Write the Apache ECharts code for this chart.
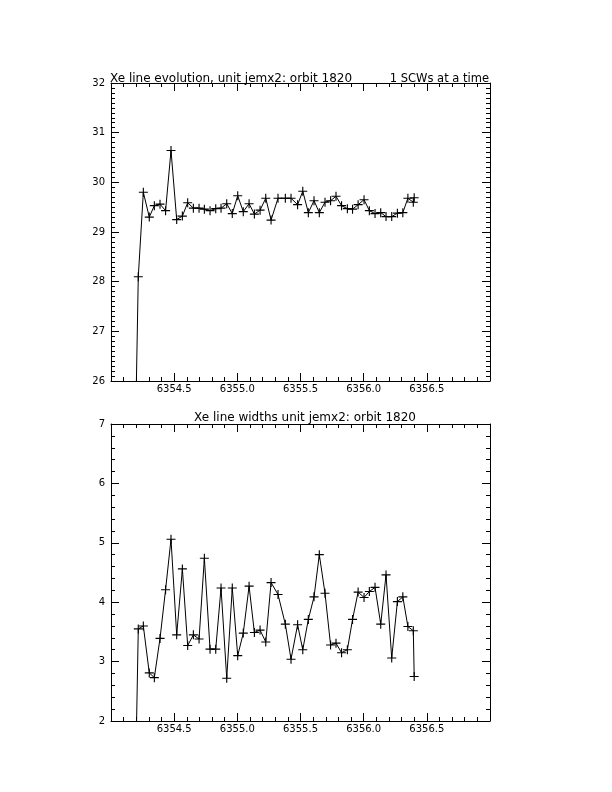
<!DOCTYPE html>
<html>
<head>
<meta charset="utf-8">
<script src="https://cdn.jsdelivr.net/npm/echarts@6/dist/echarts.min.js"></script>
<style>
html,body{margin:0;padding:0;background:#fff;}
#chart{width:612px;height:792px;}
</style>
</head>
<body>
<div id="chart"></div>
<script>
// Time (x) values shared by both panels
var times = [6354.194, 6354.216, 6354.256, 6354.303, 6354.343, 6354.388, 6354.432, 6354.475, 6354.520, 6354.565,
  6354.607, 6354.652, 6354.697, 6354.739, 6354.784, 6354.829, 6354.871, 6354.916, 6354.960, 6355.003,
  6355.047, 6355.093, 6355.135, 6355.180, 6355.225, 6355.267, 6355.322, 6355.380, 6355.425, 6355.477,
  6355.518, 6355.562, 6355.607, 6355.649, 6355.694, 6355.738, 6355.781, 6355.825, 6355.871, 6355.912,
  6355.956, 6356.003, 6356.045, 6356.090, 6356.135, 6356.177, 6356.222, 6356.267, 6356.310, 6356.350,
  6356.393, 6356.400];
// Line position (top panel)
var linePos = [25.0, 28.10, 29.80, 29.30, 29.53, 29.56, 29.43, 30.64, 29.25, 29.32,
  29.59, 29.48, 29.48, 29.46, 29.43, 29.47, 29.48, 29.57, 29.37, 29.73,
  29.41, 29.57, 29.36, 29.44, 29.68, 29.24, 29.68, 29.68, 29.68, 29.55,
  29.82, 29.39, 29.63, 29.39, 29.60, 29.63, 29.72, 29.53, 29.47, 29.46,
  29.55, 29.65, 29.43, 29.37, 29.39, 29.31, 29.31, 29.38, 29.39, 29.68,
  29.60, 29.69];
// Line widths (bottom panel)
var lineWidth = [1.0, 3.55, 3.60, 2.81, 2.73, 3.39, 4.21, 5.06, 3.45, 4.56,
  3.27, 3.45, 3.38, 4.74, 3.21, 3.21, 4.24, 2.72, 4.24, 3.10,
  3.48, 4.27, 3.49, 3.53, 3.33, 4.33, 4.13, 3.63, 3.04, 3.62,
  3.20, 3.71, 4.09, 4.80, 4.15, 3.28, 3.31, 3.15, 3.20, 3.71,
  4.17, 4.08, 4.18, 4.25, 3.63, 4.46, 3.06, 4.01, 4.09, 3.59,
  3.52, 2.75];

var titleTop = "Xe line evolution, unit jemx2: orbit 1820";
var titleTopRight = "1 SCWs at a time";
var titleBottom = "Xe line widths unit jemx2: orbit 1820";

var xMin = 6354.0, xMax = 6357.0, xInterval = 0.5;
var yTopMin = 26, yTopMax = 32;
var yBotMin = 2, yBotMax = 7;

var FONT = "DejaVu Sans";
var black = "#000";

function pairs(xs, ys){ return xs.map(function(x,i){ return [x, ys[i]]; }); }

function xAxisDef(gridIndex, pos, showLabel){
  return {
    type: 'value', gridIndex: gridIndex, position: pos,
    min: xMin, max: xMax, interval: xInterval,
    axisLine: {show: true, onZero: false, lineStyle: {color: black, width: 1}},
    axisTick: {show: true, inside: true, length: 8, lineStyle: {color: black}},
    minorTick: {show: true, splitNumber: 5, length: 4, lineStyle: {color: black}},
    splitLine: {show: false},
    axisLabel: {show: showLabel, showMinLabel: false, showMaxLabel: false, margin: 3,
      color: black, fontFamily: FONT, fontSize: 10,
      formatter: function(v){ return v.toFixed(1); }}
  };
}
function yAxisDef(gridIndex, pos, mn, mx, minorSplit, showLabel){
  return {
    type: 'value', gridIndex: gridIndex, position: pos,
    min: mn, max: mx, interval: 1,
    axisLine: {show: true, onZero: false, lineStyle: {color: black, width: 1}},
    axisTick: {show: true, inside: true, length: 8, lineStyle: {color: black}},
    minorTick: {show: true, splitNumber: minorSplit, length: 4, lineStyle: {color: black}},
    splitLine: {show: false},
    axisLabel: {show: showLabel, margin: 6, color: black, fontFamily: FONT, fontSize: 10}
  };
}

var plusSymbol = 'path://M-0.5,-4L0.5,-4L0.5,-0.5L4,-0.5L4,0.5L0.5,0.5L0.5,4L-0.5,4L-0.5,0.5L-4,0.5L-4,-0.5L-0.5,-0.5Z';

function series(xi, yi, data){
  return {
    type: 'line', xAxisIndex: xi, yAxisIndex: yi, data: data,
    clip: true, smooth: false,
    symbol: plusSymbol, symbolSize: 9,
    itemStyle: {color: black},
    lineStyle: {color: black, width: 1}
  };
}

var chart = echarts.init(document.getElementById('chart'), null, {renderer: 'canvas'});
chart.setOption({
  backgroundColor: '#fff',
  animation: false,
  title: [
    {text: titleTop, left: 105, top: 68, textStyle: {fontFamily: FONT, fontSize: 12, fontWeight: 'normal', color: black}},
    {text: titleTopRight, right: 118, top: 68, textStyle: {fontFamily: FONT, fontSize: 11.5, fontWeight: 'normal', color: black}},
    {text: titleBottom, left: 300, textAlign: 'center', top: 407, textStyle: {fontFamily: FONT, fontSize: 12, fontWeight: 'normal', color: black}}
  ],
  grid: [
    {left: 111, right: 122, top: 83, height: 298, containLabel: false},
    {left: 111, right: 122, top: 424, height: 297, containLabel: false}
  ],
  xAxis: [
    xAxisDef(0, 'bottom', true), xAxisDef(0, 'top', false),
    xAxisDef(1, 'bottom', true), xAxisDef(1, 'top', false)
  ],
  yAxis: [
    yAxisDef(0, 'left', yTopMin, yTopMax, 10, true), yAxisDef(0, 'right', yTopMin, yTopMax, 10, false),
    yAxisDef(1, 'left', yBotMin, yBotMax, 5, true), yAxisDef(1, 'right', yBotMin, yBotMax, 5, false)
  ],
  series: [
    series(0, 0, pairs(times, linePos)),
    series(2, 2, pairs(times, lineWidth))
  ]
});
</script>
</body>
</html>
